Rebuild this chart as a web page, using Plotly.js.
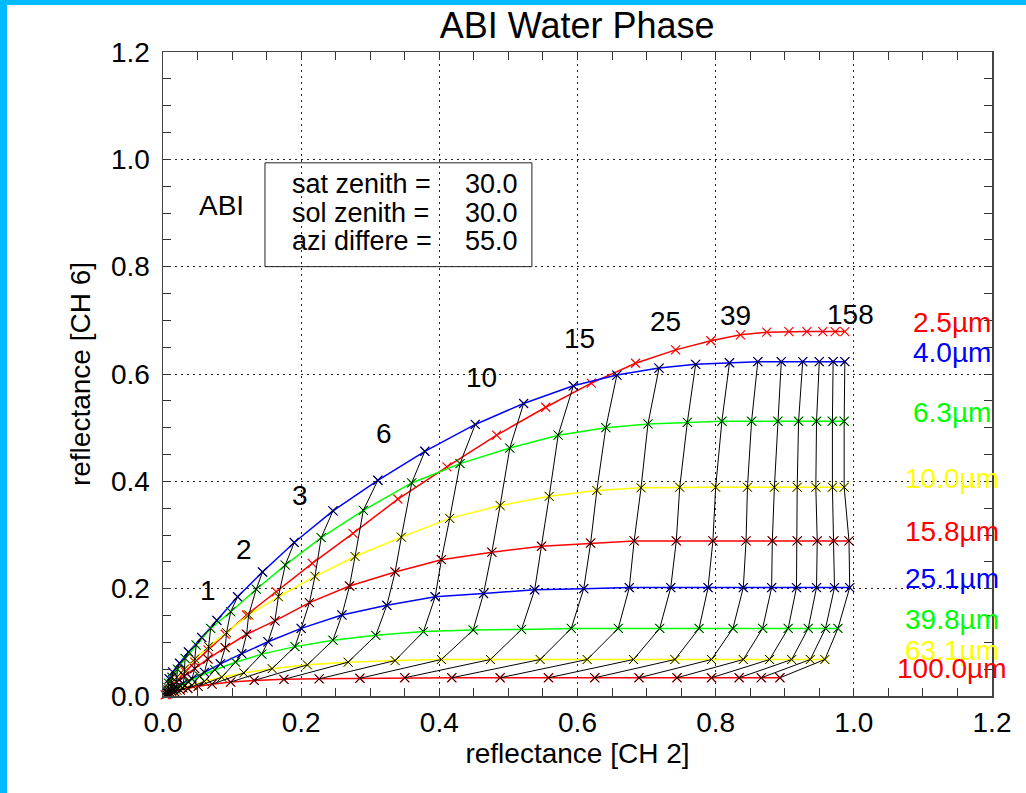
<!DOCTYPE html>
<html>
<head>
<meta charset="utf-8">
<script src="https://cdn.plot.ly/plotly-3.0.1.min.js"></script>
<style>
  html, body { margin: 0; padding: 0; background: #fff; }
  #chart { width: 1026px; height: 793px; position: absolute; left: 0; top: 0; }
  .band { position: absolute; background: #00BAFF; z-index: 10; }
</style>
</head>
<body>
<div id="chart"></div>
<div class="band" style="left:0;top:0;width:1026px;height:5px;"></div>
<div class="band" style="left:0;top:0;width:7px;height:793px;"></div>
<script>
// optical depth grid (one value per marker along each curve)
const tau = [0.63,0.79,1.0,1.26,1.58,2.0,2.51,3.16,3.98,5.01,6.31,7.94,10.0,12.6,15.8,20.0,25.1,31.6,39.8,50.1,63.1,79.4,100,126,158];
// optical depth labels and the tau index they sit on
const tauLabels = ['1','2','3','6','10','15','25','39','158'];
const tauLabelIdx = [4,6,8,10,12,14,16,18,24];

// effective radii (µm)
const radii = ['2.5','4.0','6.3','10.0','15.8','25.1','39.8','63.1','100.0'];

// reflectance CH2 (x) and CH6 (y) for each effective radius, ascending tau
const x_r025 = [.015,.022,.032,.046,.065,.090,.121,.164,.216,.275,.340,.411,.483,.554,.620,.684,.742,.793,.836,.874,.906,.932,.955,.973,.987];
const y_r025 = [.021,.031,.045,.063,.086,.115,.151,.194,.247,.303,.367,.427,.486,.538,.583,.620,.645,.662,.673,.678,.679,.679,.679,.679,.679];
const x_r040 = [.009,.014,.024,.037,.056,.078,.108,.144,.190,.246,.311,.379,.452,.522,.594,.657,.718,.771,.820,.861,.895,.926,.950,.970,.987];
const y_r040 = [.032,.045,.061,.082,.109,.141,.185,.231,.286,.345,.402,.456,.506,.545,.578,.598,.611,.618,.621,.623,.623,.623,.623,.623,.623];
const x_r063 = [.008,.013,.021,.032,.048,.069,.098,.135,.177,.229,.290,.360,.430,.502,.572,.641,.702,.759,.809,.852,.890,.920,.946,.969,.986];
const y_r063 = [.024,.035,.050,.070,.095,.126,.157,.199,.244,.295,.346,.397,.433,.462,.486,.500,.507,.510,.512,.512,.512,.512,.512,.512,.512];
const x_r100 = [.007,.012,.020,.031,.046,.066,.092,.124,.167,.220,.278,.345,.415,.488,.559,.628,.692,.748,.800,.846,.885,.918,.945,.969,.986];
const y_r100 = [.016,.024,.035,.050,.069,.092,.118,.151,.185,.223,.260,.296,.331,.355,.372,.383,.388,.389,.389,.389,.389,.389,.389,.389,.389];
const x_r158 = [.007,.012,.020,.031,.046,.065,.090,.121,.162,.212,.270,.336,.403,.476,.548,.619,.682,.743,.796,.844,.882,.918,.947,.971,.993];
const y_r158 = [.011,.017,.026,.037,.051,.069,.090,.115,.140,.174,.205,.231,.254,.268,.279,.285,.289,.289,.289,.289,.289,.289,.289,.289,.289];
const x_r251 = [.007,.012,.019,.029,.042,.060,.083,.114,.152,.200,.259,.324,.394,.464,.538,.609,.675,.735,.789,.840,.881,.917,.946,.972,.994];
const y_r251 = [.007,.011,.016,.023,.032,.044,.060,.079,.101,.126,.151,.169,.185,.191,.198,.200,.202,.202,.202,.202,.202,.202,.202,.202,.202];
const x_r398 = [.006,.009,.015,.024,.036,.053,.075,.105,.143,.191,.246,.308,.377,.449,.519,.591,.659,.719,.776,.825,.868,.905,.934,.959,.977];
const y_r398 = [.006,.009,.013,.019,.027,.037,.049,.063,.078,.092,.104,.113,.120,.123,.124,.126,.126,.126,.126,.126,.126,.126,.126,.126,.126];
const x_r631 = [.005,.008,.013,.020,.029,.042,.060,.085,.117,.158,.209,.268,.336,.403,.474,.546,.614,.681,.741,.794,.840,.878,.910,.937,.958];
const y_r631 = [.003,.005,.008,.011,.015,.020,.027,.035,.043,.051,.058,.063,.066,.068,.068,.068,.068,.068,.068,.068,.068,.068,.068,.068,.068];
const x_r1000 = [.003,.005,.007,.011,.017,.025,.036,.051,.071,.098,.132,.175,.226,.285,.350,.418,.488,.558,.625,.689,.744,.794,.834,.866,.893];
const y_r1000 = [.002,.003,.004,.006,.008,.011,.014,.018,.022,.026,.029,.031,.032,.033,.034,.034,.034,.034,.034,.034,.034,.034,.034,.034,.034];

const X = [x_r025,x_r040,x_r063,x_r100,x_r158,x_r251,x_r398,x_r631,x_r1000];
const Y = [y_r025,y_r040,y_r063,y_r100,y_r158,y_r251,y_r398,y_r631,y_r1000];
const colors = ['#ff0000','#0000ff','#00ff00','#ffff00','#ff0000','#0000ff','#00ff00','#ffff00','#ff0000'];

const FONT = 'Liberation Sans, Arial, Helvetica, sans-serif';
const traces = [];
for (let i = 0; i < X.length; i++) {
  traces.push({
    x: X[i], y: Y[i], type: 'scatter', mode: 'lines+markers',
    line: {color: colors[i], width: 1.5},
    marker: {symbol: 'x-thin', size: 9, color: colors[i], line: {color: colors[i], width: 1.2}},
    hoverinfo: 'skip', showlegend: false, cliponaxis: false
  });
}
// constant optical depth lines (all radii except 2.5 µm)
for (let j = 0; j < tau.length; j++) {
  traces.push({
    x: X.slice(1).map(a => a[j]), y: Y.slice(1).map(a => a[j]),
    type: 'scatter', mode: 'lines+markers',
    line: {color: '#000', width: 1},
    marker: {symbol: 'x-thin', size: 9, color: '#000', line: {color: '#000', width: 1}},
    hoverinfo: 'skip', showlegend: false
  });
}

const annotations = [];
tauLabelIdx.forEach((idx, n) => {
  annotations.push({x: x_r040[idx], y: y_r040[idx], xref: 'x', yref: 'y', text: tauLabels[n],
    showarrow: false, xshift: 6, yshift: 47, font: {family: FONT, size: 28, color: '#000'}});
});
radii.forEach((r, i) => {
  const yl = Y[i][Y[i].length - 1];
  annotations.push({x: 1.142, y: yl, xref: 'x', yref: 'y', text: r + 'µm', showarrow: false,
    yshift: 9, xanchor: 'center', font: {family: FONT, size: 28, color: colors[i]}});
});
annotations.push({x: 0.084, y: 0.9135, xref: 'x', yref: 'y', text: 'ABI', showarrow: false,
  font: {family: FONT, size: 28, color: '#000'}});
const boxLabels = ['sat zenith =', 'sol zenith =', 'azi differe ='];
const boxValues = ['30.0', '30.0', '55.0'];
const boxY = [0.954, 0.900, 0.848];
boxLabels.forEach((t, i) => {
  annotations.push({x: 0.184, y: boxY[i], xref: 'x', yref: 'y', text: t, showarrow: false,
    xanchor: 'left', font: {family: FONT, size: 27, color: '#000'}});
  annotations.push({x: 0.5166, y: boxY[i], xref: 'x', yref: 'y', text: boxValues[i], showarrow: false,
    xanchor: 'right', font: {family: FONT, size: 27, color: '#000'}});
});

const axisCommon = {
  range: [0, 1.2], dtick: 0.2, tick0: 0, tickformat: '.1f',
  ticks: 'inside', ticklen: 8, tickwidth: 1, tickcolor: '#333',
  showline: true, linecolor: '#444', linewidth: 1.5, mirror: 'ticks',
  showgrid: true, gridcolor: '#222', gridwidth: 1, griddash: '2px,4px',
  zeroline: false,
  minor: {dtick: 0.05, ticks: 'inside', ticklen: 8, tickwidth: 1, tickcolor: '#333', showgrid: false},
  tickfont: {family: FONT, size: 28, color: '#000'}
};

const layout = {
  width: 1026, height: 793,
  margin: {l: 163, r: 34, t: 52, b: 97},
  paper_bgcolor: '#fff', plot_bgcolor: '#fff',
  title: {text: 'ABI Water Phase', font: {family: FONT, size: 36, color: '#000'},
          x: 0.5625, xanchor: 'center', y: 0.968, yanchor: 'middle'},
  xaxis: Object.assign({}, axisCommon, {
    ticklabelstandoff: 1,
    title: {text: 'reflectance [CH 2]', font: {family: FONT, size: 28, color: '#000'}, standoff: 1}
  }),
  yaxis: Object.assign({}, axisCommon, {
    ticklabelstandoff: 6,
    title: {text: 'reflectance [CH 6]', font: {family: FONT, size: 28, color: '#000'}, standoff: 12}
  }),
  shapes: [{type: 'rect', xref: 'x', yref: 'y', x0: 0.1476, x1: 0.534, y0: 0.8, y1: 0.9935,
            line: {color: '#222', width: 1}, fillcolor: 'rgba(0,0,0,0)'}],
  annotations: annotations,
  hovermode: false, showlegend: false
};

Plotly.newPlot('chart', traces, layout, {staticPlot: true, displayModeBar: false});
</script>
</body>
</html>
